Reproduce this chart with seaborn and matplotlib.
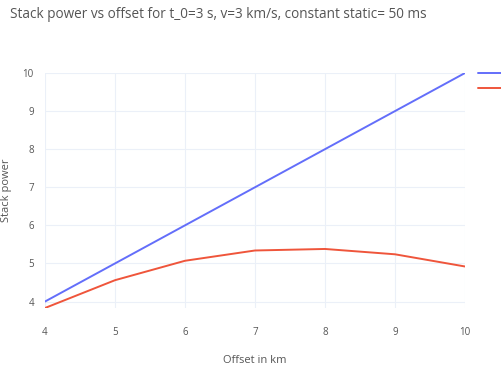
import matplotlib
matplotlib.use("Agg")
import matplotlib.pyplot as plt
import seaborn as sns
import pandas as pd
from matplotlib.lines import Line2D

offsets = [4, 5, 6, 7, 8, 9, 10]
series_a = [4, 5, 6, 7, 8, 9, 10]
series_b = [3.83, 4.56, 5.07, 5.34, 5.38, 5.24, 4.92]
series_names = ["trace 0", "trace 1"]
colors = ["#636efa", "#EF553B"]
x_ticks = [4, 5, 6, 7, 8, 9, 10]
y_ticks = [4, 5, 6, 7, 8, 9, 10]

df = pd.DataFrame({
    "offset": offsets * 2,
    "power": series_a + series_b,
    "series": [series_names[0]] * len(offsets) + [series_names[1]] * len(offsets),
})

sns.set_theme(style="white")
plt.rcParams["font.family"] = ["Open Sans", "DejaVu Sans"]
text_col = "#555555"
grid_col = "#ebf0f8"

fig = plt.figure(figsize=(5.01, 3.69), dpi=100)
ax = fig.add_axes([45 / 501, 1 - 308 / 369, 420 / 501, 235 / 369])
sns.lineplot(data=df, x="offset", y="power", hue="series", palette=colors,
             ax=ax, linewidth=1.4, legend=False)

ax.set_xlim(4, 10)
ax.set_ylim(3.83, 10)
ax.set_xticks(x_ticks)
ax.set_yticks(y_ticks)
ax.set_xticklabels([str(v) for v in x_ticks])
ax.set_yticklabels([str(v) for v in y_ticks])
ax.grid(True, color=grid_col, linewidth=0.8)
ax.set_axisbelow(True)
for s in ax.spines.values():
    s.set_visible(False)
ax.tick_params(axis="both", length=0, labelsize=7, colors=text_col)
ax.tick_params(axis="x", pad=14)
ax.tick_params(axis="y", pad=8)
ax.set_xlabel("Offset in km", fontsize=8, color=text_col, labelpad=12)
ax.set_ylabel("Stack power", fontsize=8, color=text_col)
ax.yaxis.set_label_coords(-0.078, 0.5)

fig.text(10 / 501, 1 - 15 / 369, "Stack power vs offset for t_0=3 s, v=3 km/s, constant static= 50 ms",
         fontsize=9.8, color=text_col, ha="left", va="center")

for i, c in enumerate(colors):
    y = 1 - (73 + 15 * i) / 369
    fig.add_artist(Line2D([478 / 501, 1.0], [y, y], color=c, linewidth=1.4,
                          transform=fig.transFigure))

fig.savefig("out.png", dpi=100, facecolor="white")
